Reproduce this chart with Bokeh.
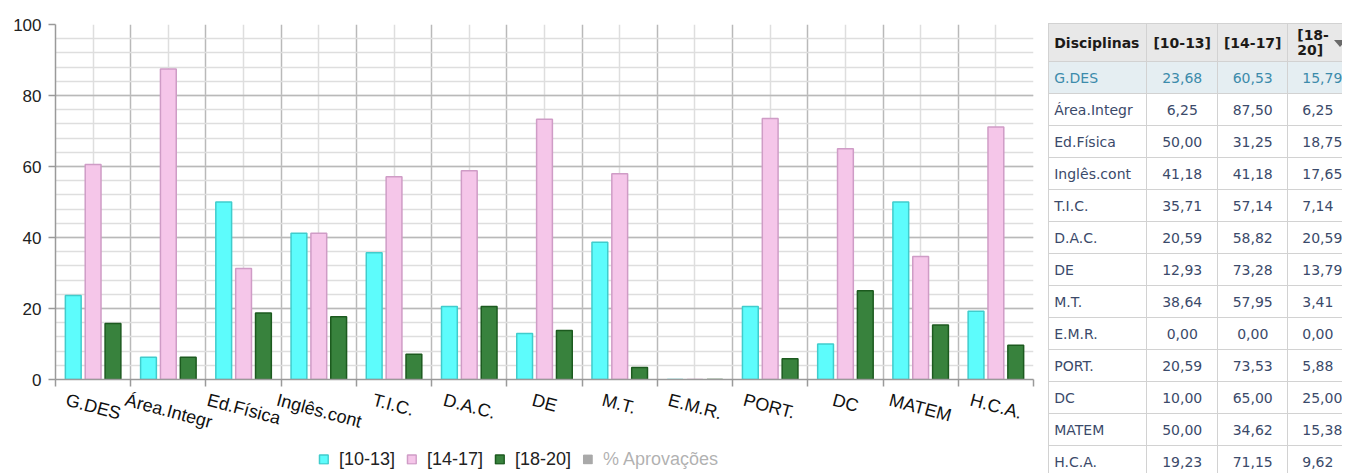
import math
from bokeh.plotting import figure
from bokeh.models import (Range1d, FixedTicker, ColumnDataSource, Legend, LegendItem, Div)
from bokeh.transform import dodge
from bokeh.embed import file_html
from bokeh.resources import INLINE

# ---------------- data ----------------
categories = ["G.DES", "Área.Integr", "Ed.Física", "Inglês.cont", "T.I.C.", "D.A.C.",
              "DE", "M.T.", "E.M.R.", "PORT.", "DC", "MATEM", "H.C.A."]
v10_13 = [23.68, 6.25, 50.00, 41.18, 35.71, 20.59, 12.93, 38.64, 0.00, 20.59, 10.00, 50.00, 19.23]
v14_17 = [60.53, 87.50, 31.25, 41.18, 57.14, 58.82, 73.28, 57.95, 0.00, 73.53, 65.00, 34.62, 71.15]
v18_20 = [15.79, 6.25, 18.75, 17.65, 7.14, 20.59, 13.79, 3.41, 0.00, 5.88, 25.00, 15.38, 9.62]
series_names = ["[10-13]", "[14-17]", "[18-20]", "% Aprovações"]
y_ticks = [0, 20, 40, 60, 80, 100]
table_header = ["Disciplinas", "[10-13]", "[14-17]", "[18-<br>20]"]

FONT = "Liberation Sans"
TFONT = "DejaVu Sans"

# ---------------- chart ----------------
n = len(categories)
xc = [i + 0.5 for i in range(n)]
src = ColumnDataSource(dict(xc=xc, cat=categories, a=v10_13, b=v14_17, c=v18_20))

W, H = 1045, 473
BL, BR, BT, BB = 55, 4, 24, 93
p = figure(width=W, height=H, x_range=Range1d(0, n), y_range=Range1d(0, 100),
           output_backend="svg", toolbar_location=None, name="chart",
           min_border_left=BL, min_border_right=BR, min_border_top=BT, min_border_bottom=BB)
p.outline_line_color = None

# y axis
p.yaxis.ticker = FixedTicker(ticks=y_ticks, minor_ticks=list(range(0, 101, 4)))
p.yaxis.major_label_text_font = FONT
p.yaxis.major_label_text_font_size = "17px"
p.yaxis.major_label_text_color = "#222222"
p.yaxis.axis_line_color = "#9a9a9a"
p.yaxis.axis_line_width = 1.5
p.yaxis.major_tick_line_color = "#9a9a9a"
p.yaxis.major_tick_line_width = 1.5
p.yaxis.major_tick_out = 7
p.yaxis.major_tick_in = 0
p.yaxis.minor_tick_line_color = None
p.yaxis.major_label_standoff = 7

# x axis: the rotated labels are left-anchored by Bokeh, so each label's
# anchor is moved left by half of its (rotated) text width to centre it.
ANG = 0.26
FS = 18
ARIAL = {'A': 667, 'C': 722, 'D': 722, 'E': 667, 'F': 611, 'G': 778, 'H': 722, 'I': 278,
         'M': 833, 'O': 778, 'P': 667, 'R': 722, 'S': 667, 'T': 611, '.': 278, 'a': 556,
         'c': 500, 'd': 556, 'e': 556, 'g': 556, 'i': 222, 'l': 222, 'n': 556, 'o': 556,
         'r': 333, 's': 500, 't': 278, 'Á': 667, 'ê': 556, 'í': 278}
ppu = (W - BL - BR) / n
def text_w(s):
    return sum(ARIAL.get(ch, 556) for ch in s) / 1000 * FS
label_ticks = [x - (text_w(c) / 2) * math.cos(ANG) / ppu for x, c in zip(xc, categories)]

p.xaxis.ticker = FixedTicker(ticks=label_ticks, minor_ticks=list(range(n + 1)))
p.xaxis.major_label_overrides = {t: c for t, c in zip(label_ticks, categories)}
p.xaxis.major_label_orientation = -ANG
p.xaxis.major_label_text_font = FONT
p.xaxis.major_label_text_font_size = f"{FS}px"
p.xaxis.major_label_text_color = "#111111"
p.xaxis.major_label_standoff = 13
p.xaxis.major_tick_line_color = None
p.xaxis.major_tick_out = 7
p.xaxis.major_tick_in = 0
p.xaxis.minor_tick_line_color = "#9a9a9a"
p.xaxis.minor_tick_line_width = 1.5
p.xaxis.minor_tick_out = 7
p.xaxis.minor_tick_in = 0
p.xaxis.axis_line_color = "#9a9a9a"
p.xaxis.axis_line_width = 1.5

p.xgrid.ticker = FixedTicker(ticks=xc, minor_ticks=list(range(n + 1)))
p.xgrid.grid_line_color = "#dedede"
p.xgrid.grid_line_width = 1.5
p.xgrid.minor_grid_line_color = "#b9b9b9"
p.xgrid.minor_grid_line_width = 1.5
p.ygrid.grid_line_color = "#b9b9b9"
p.ygrid.grid_line_width = 1.5
p.ygrid.minor_grid_line_color = "#dedede"
p.ygrid.minor_grid_line_width = 1.5

bw = 0.21
off = 0.264
r1 = p.vbar(x=dodge("xc", -off, range=p.x_range), top="a", width=bw, source=src,
            fill_color="#5dfcfc", line_color="#40cccc", line_width=1.5)
r2 = p.vbar(x=dodge("xc", 0, range=p.x_range), top="b", width=bw, source=src,
            fill_color="#f5c6e9", line_color="#cf9cc6", line_width=1.5)
r3 = p.vbar(x=dodge("xc", off, range=p.x_range), top="c", width=bw, source=src,
            fill_color="#38823d", line_color="#1c5a1f", line_width=1.5)
# "% Aprovações" is a hidden series in the original (no values shown)
r4 = p.vbar(x=[None], top=[None], width=bw, fill_color="#0a0a0a", line_color="#0a0a0a",
            visible=False)
# transparent spacer entry (keeps the legend left of the frame centre, as in the original)
r5 = p.vbar(x=[None], top=[None], width=bw, fill_alpha=0, line_alpha=0)

legend = Legend(items=[LegendItem(label=series_names[0], renderers=[r1]),
                       LegendItem(label=series_names[1], renderers=[r2]),
                       LegendItem(label=series_names[2], renderers=[r3]),
                       LegendItem(label=series_names[3], renderers=[r4]),
                       LegendItem(label=" ", renderers=[r5])],
                orientation="horizontal", location="center",
                label_text_font=FONT, label_text_font_size="18px", label_text_color="#222222",
                glyph_width=11, glyph_height=11, label_standoff=10, spacing=11, label_height=29,
                padding=0, margin=0, border_line_color=None, background_fill_alpha=0,
                click_policy="hide", inactive_fill_color="white", inactive_fill_alpha=0.65)
p.add_layout(legend, "below")

# ---------------- table ----------------
def fmt(v):
    return f"{v:.2f}".replace(".", ",")

col_w = [98, 71, 70, 70]
cell = "border:1px solid #d2d2d2;padding:0 5px;"
hdr = ("<tr style='height:38px;background:#e8e8e8;color:#1c1a18;font-weight:bold;'>"
       f"<th style='{cell}text-align:left;width:{col_w[0]}px'>{table_header[0]}</th>"
       f"<th style='{cell}text-align:center;width:{col_w[1]}px'>{table_header[1]}</th>"
       f"<th style='{cell}text-align:center;width:{col_w[2]}px'>{table_header[2]}</th>"
       f"<th style='{cell}text-align:left;padding-left:9px;width:{col_w[3]}px;position:relative;line-height:15px'>{table_header[3]}"
       "<span style='position:absolute;left:46px;top:16px;width:0;height:0;"
       "border-left:6px solid transparent;border-right:6px solid transparent;"
       "border-top:7px solid #6a6a6a'></span></th></tr>")
rows_html = []
for i, (c, a, b, d) in enumerate(zip(categories, v10_13, v14_17, v18_20)):
    bg = "#e5eef2" if i == 0 else "#ffffff"
    fg = "#3c8bab" if i == 0 else "#3b4a6a"
    rows_html.append(
        f"<tr style='height:32px;background:{bg};color:{fg};'>"
        f"<td style='{cell}text-align:left'>{c}</td>"
        f"<td style='{cell}text-align:center'>{fmt(a)}</td>"
        f"<td style='{cell}text-align:center'>{fmt(b)}</td>"
        f"<td style='{cell}text-align:left;padding-left:14px'>{fmt(d)}</td></tr>")
html = ("<div style='position:absolute;left:6px;top:18px;'>"
        f"<table style=\"border-collapse:collapse;table-layout:fixed;font-family:'{TFONT}';"
        f"font-size:14px;width:{sum(col_w)}px;border-left:1px solid #c4c4c4\">"
        + hdr + "".join(rows_html) + "</table></div>")
table_div = Div(text=html, width=302, height=H, name="table",
                styles={"overflow": "hidden", "position": "relative"})

# two independent roots placed side by side (no frame alignment between them)
TEMPLATE = """
{% block contents %}
<div style="display:flex;flex-direction:row;align-items:flex-start;">
{{ embed(roots.chart) }}
{{ embed(roots.table) }}
</div>
{% endblock %}
"""

open("out.html", "w").write(file_html((p, table_div), INLINE, template=TEMPLATE))
